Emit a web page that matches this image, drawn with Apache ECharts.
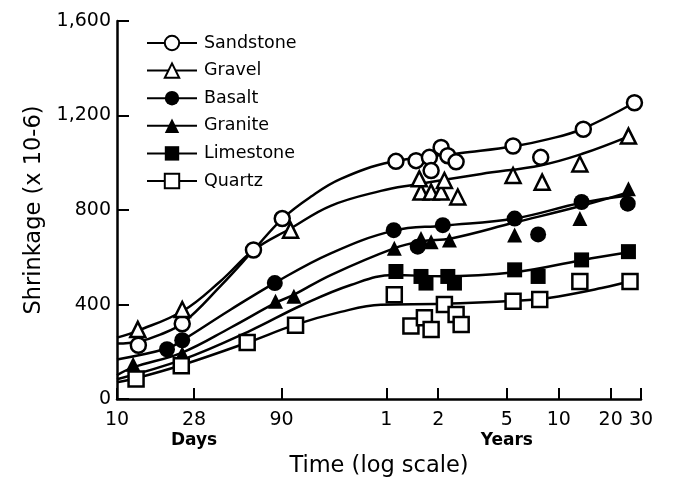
<!DOCTYPE html>
<html>
<head>
<meta charset="utf-8">
<script src="https://cdn.jsdelivr.net/npm/echarts@6/dist/echarts.min.js"></script>
<style>html,body{margin:0;padding:0;background:#fff}#c{width:674px;height:483px}</style>
</head>
<body>
<div id="c"></div>
<script>
// ---- Data (x in days, y in shrinkage x10^-6) ----
const tickDays = [10, 28, 90, 365, 730, 1826, 3652, 7305, 10957];
const tickLabels = ['10', '28', '90', '1', '2', '5', '10', '20', '30'];
const tickSubLabels = ['', 'Days', '', '', '', 'Years', '', '', ''];
const yTicks = [0, 400, 800, 1200, 1600];
const seriesNames = ['Sandstone', 'Gravel', 'Basalt', 'Granite', 'Limestone', 'Quartz'];

// measured points
const sandstonePts = [[13.3,228],[23.9,319],[61.9,631],[90.9,764],[415,1006],[543,1009],[649,1023],[759,1065],[830,1030],[927,1004],[664,967],[1984,1071],[2871,1023],[5070,1142],[10039,1254]];
const gravelPts = [[13.2,295],[23.9,379],[101.6,715],[580,876],[664,876],[759,876],[948,855],[567,932],[793,925],[1984,946],[2926,918],[4842,995],[9265,1113]];
const basaltPts = [[19.5,211],[23.9,249],[82.3,491],[403,715],[555,645],[776,736],[2026,764],[2773,697],[4955,834],[9178,827]];
const granitePts = [[12.4,147],[23.9,193],[83.1,414],[106.2,435],[406,638],[580,680],[664,666],[848,673],[2026,694],[4842,764],[9265,890]];
const limestonePts = [[415,540],[580,519],[620,491],[830,519],[907,491],[2026,547],[2773,519],[4955,589],[9265,624]];
const quartzPts = [[12.9,85],[23.6,141],[56.9,240],[108.6,312],[406,442],[507,309],[607,344],[664,295],[793,400],[927,358],[992,316],[1984,414],[2833,421],[4842,498],[9462,498]];

// fitted curves
const sandstoneCurve = [[10,235],[13.25,243],[17.8,273],[24.2,323],[39.8,478],[61.9,630],[91.3,764],[132.9,856],[198.6,932],[388,1003],[992,1041],[2018,1070],[3184,1100],[4955,1142],[10080,1255]];
const gravelCurve = [[10,260],[13.25,290],[24.2,374],[39.8,499],[61.9,630],[101.6,722],[173.7,818],[339.5,881],[528,907],[1297,953],[2899,990],[4955,1037],[9302,1112]];
const basaltCurve = [[10,168],[19.5,214],[23.9,248],[45.5,378],[82,491],[173.7,617],[404,713],[779,734],[2018,764],[4955,831],[9302,862]];
const graniteCurve = [[10,101],[12.4,134],[23.9,197],[45.5,302],[83.1,407],[105.8,441],[173.7,525],[404,638],[580,667],[868,680],[2018,747],[4955,818],[9302,876]];
const limestoneCurve = [[10,84],[24.2,168],[59.5,290],[116.2,395],[227,483],[404,525],[759,520],[2018,537],[4955,588],[9302,621]];
const quartzCurve = [[10,71],[12.9,88],[23.6,143],[57.1,239],[108.6,315],[198.6,369],[339.5,399],[759,403],[2018,416],[3184,428],[6477,470],[10080,504]];

const ptsList = [sandstonePts, gravelPts, basaltPts, granitePts, limestonePts, quartzPts];
const curveList = [sandstoneCurve, gravelCurve, basaltCurve, graniteCurve, limestoneCurve, quartzCurve];

// ---- Styles ----
const FONT = 'DejaVu Sans';
const symbolStyles = [
  {symbol: 'circle', size: 15, open: true},
  {symbol: 'triangle', size: 15, open: true},
  {symbol: 'circle', size: 16, open: false},
  {symbol: 'triangle', size: 15, open: false},
  {symbol: 'rect', size: 15, open: false},
  {symbol: 'rect', size: 15, open: true}
];
function itemStyleFor(s) {
  return s.open ? {color: '#fff', borderColor: '#000', borderWidth: 2.5, opacity: 1}
                : {color: '#000', borderColor: '#000', borderWidth: 0, opacity: 1};
}

const series = [];
seriesNames.forEach((name, i) => {
  const s = symbolStyles[i];
  series.push({
    name: name, type: 'line', data: curveList[i], smooth: 0.4,
    showSymbol: false, symbol: s.symbol, symbolSize: s.size,
    itemStyle: itemStyleFor(s),
    lineStyle: {color: '#000', width: 2.5},
    z: 2, silent: true, animation: false
  });
});
seriesNames.forEach((name, i) => {
  const s = symbolStyles[i];
  series.push({
    name: name, type: 'scatter', data: ptsList[i],
    symbol: s.symbol, symbolSize: s.size,
    itemStyle: itemStyleFor(s),
    z: 3, silent: true, animation: false
  });
});

function xLabel(v) {
  let best = 0, bd = Infinity;
  tickDays.forEach((d, i) => { const dd = Math.abs(Math.log(d) - Math.log(v)); if (dd < bd) { bd = dd; best = i; } });
  return tickSubLabels[best] ? tickLabels[best] + '\n{sub|' + tickSubLabels[best] + '}' : tickLabels[best];
}

const chart = echarts.init(document.getElementById('c'), null, {renderer: 'canvas'});
chart.setOption({
  animation: false,
  backgroundColor: '#fff',
  textStyle: {fontFamily: FONT, color: '#000'},
  grid: {left: 117, top: 21, width: 524, height: 382, containLabel: false},
  legend: {
    orient: 'vertical', left: 141, top: 29,
    itemWidth: 50, itemHeight: 18, itemGap: 9.6,
    selectedMode: false,
    data: seriesNames,
    textStyle: {fontFamily: FONT, fontSize: 17.5, color: '#000', padding: [0, 0, 0, 2]}
  },
  xAxis: {
    type: 'log', logBase: 10, min: 10, max: 10957,
    name: 'Time (log scale)', nameLocation: 'middle', nameGap: 52,
    nameTextStyle: {fontFamily: FONT, fontSize: 22.5, color: '#000'},
    axisLine: {show: true, lineStyle: {color: '#000', width: 2.5}},
    axisTick: {show: true, inside: true, length: 11, customValues: tickDays, lineStyle: {color: '#000', width: 2}},
    minorTick: {show: false},
    splitLine: {show: false},
    axisLabel: {
      customValues: tickDays, formatter: xLabel, margin: 11,
      fontFamily: FONT, fontSize: 19, color: '#000', lineHeight: 20,
      rich: {sub: {fontFamily: FONT, fontSize: 17, fontWeight: 'bold', color: '#000', lineHeight: 20}}
    }
  },
  yAxis: {
    type: 'value', min: 0, max: 1600, interval: 400,
    name: 'Shrinkage (x 10-6)', nameLocation: 'middle', nameGap: 64, nameRotate: 90,
    nameTextStyle: {fontFamily: FONT, fontSize: 22.5, color: '#000'},
    axisLine: {show: true, lineStyle: {color: '#000', width: 2.5}},
    axisTick: {show: true, inside: true, length: 12, lineStyle: {color: '#000', width: 2}},
    splitLine: {show: false},
    axisLabel: {
      margin: 6, fontFamily: FONT, fontSize: 19, color: '#000',
      formatter: v => yTicks.includes(v) ? v.toLocaleString('en-US') : ''
    }
  },
  series: series
});
</script>
</body>
</html>
